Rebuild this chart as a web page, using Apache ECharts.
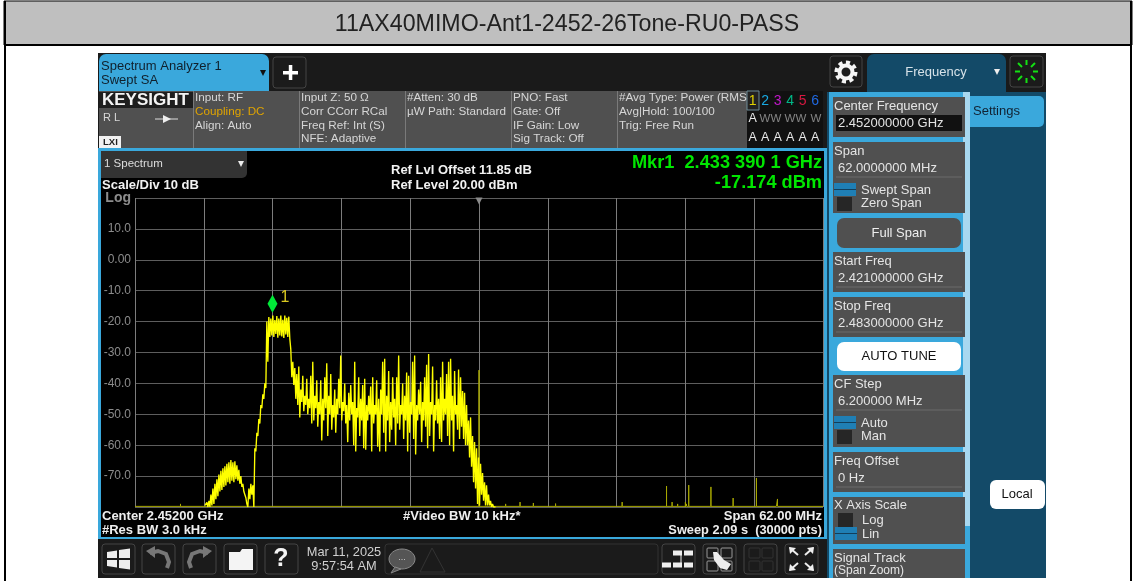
<!DOCTYPE html>
<html>
<head>
<meta charset="utf-8">
<style>
  html, body { margin: 0; padding: 0; background: #fff; }
  #chart { width: 1134px; height: 581px; }
</style>
</head>
<body>
<div id="chart"></div>
<script src="https://cdn.jsdelivr.net/npm/echarts@6/dist/echarts.min.js"></script>
<script>
// x axis is MHz above the start frequency (2421 MHz), span 62 MHz
const spanMHz = 62;
const divMHz = 6.2;
const yTicks = [20, 10, 0, -10, -20, -30, -40, -50, -60, -70, -80];
const yTickLabels = ['{log|Log}', '10.0', '0.00', '-10.0', '-20.0', '-30.0', '-40.0', '-50.0', '-60.0', '-70.0', ''];

const titleText = '11AX40MIMO-Ant1-2452-26Tone-RU0-PASS';
const markerMHz = 12.39;
const markerDbm = -17.174;
const centerMHz = 31;

// trace read as high/low of each 0.18 MHz bin, first bin at 6.3 MHz
const traceStart = 6.3;
const traceBin = 0.18;
const traceUpper = [
  -79.5, -78.5, -78, -76, -74, -72.5, -71, -69.5, -68.3, -67.5, -66.8, -66, -65.5, -64.8, -65.5, -65.2,
  -66.5, -68, -70, -72.5, -75, -79, -74, -72.5, -73, -61, -56, -51.5, -47, -43.5, -40, -20,
  -18.5, -19, -18, -19.5, -18.2, -19, -18, -19.4, -18, -18.8, -18.4, -29,
  -33, -35, -37, -34.5, -42, -37.5, -44, -38.5, -45, -37.5, -33, -44, -39, -46, -39, -45, -38,
  -33.5, -44, -37, -47, -42, -45, -38.5, -31, -46, -40, -47, -43, -40.5, -46, -33, -48,
  -38, -45, -40.5, -38.5, -47, -44, -41, -38, -47, -39, -45, -42, -33, -32, -44, -36, -46,
  -38, -45, -38, -31, -47, -40, -44, -36.5, -37.5, -46, -33, -31, -47, -42, -39.5, -46, -38,
  -34, -30.5, -46, -34.5, -47, -39, -45, -38, -33, -45, -37, -33, -32, -44, -36, -47, -35.5,
  -38, -42.5, -43,
  -47, -52, -51, -57, -59, -61, -64, -66, -69, -72, -73, -76, -78, -79, -79.5
];
const traceLower = [
  -80, -80, -80, -79.5, -79, -77.5, -76.5, -75, -74.5, -73.5, -73, -72, -72.5, -71.5, -72, -71,
  -71.5, -72.5, -73.5, -75, -77, -80, -77.5, -76, -80, -62, -57, -53, -48, -45, -41.5, -33,
  -25, -24.5, -25, -24, -25.2, -24.5, -24.8, -25.3, -24.2, -25, -25.5, -38,
  -40.5, -45, -47, -51, -46, -49, -47, -50, -48, -53, -52, -48, -54, -50, -58.5, -52, -48,
  -57, -50, -55, -51, -56, -50, -48, -52, -49, -53, -59, -52, -50, -60, -62, -51,
  -57, -52, -61, -61.5, -52, -50, -62, -53, -50, -60.5, -62, -50, -56, -62, -52, -59, -55,
  -51, -60, -53, -55, -50, -58, -52, -62, -56, -50, -58, -63, -52, -50, -59, -52, -54,
  -61, -57, -50, -62, -52, -53, -58, -59, -52, -50, -57, -60, -52, -62, -50, -55, -58,
  -54, -58, -60,
  -60, -64, -67, -72, -74, -79, -79.5, -76, -78, -79.5, -79.5, -79.5, -80, -80, -80
];

// noise floor and the small spurs standing on it
const floorDbm = -79.8;
const spurMHz = [4.1, 31, 33.4, 34.7, 35.9, 37.9, 43.9, 47.9, 48.4, 48.9, 49.6, 49.7, 49.9, 51.9, 53.9, 56, 57.8, 57.9];
const spurDbm = [-79, -35.7, -79, -78.4, -78.7, -78.9, -78.4, -73.2, -78.4, -79, -78.4, -79, -72.9, -73.5, -77.1, -70.6, -79.3, -77.4];

// softkey panel text
const softKeys = [
  { top: 97, h: 40, name: 'Center Frequency', value: '2.452000000 GHz', active: true },
  { top: 142, h: 71, name: 'Span', value: '62.0000000 MHz', on: 'Swept Span', off: 'Zero Span' },
  { top: 252, h: 40, name: 'Start Freq', value: '2.421000000 GHz' },
  { top: 297, h: 40, name: 'Stop Freq', value: '2.483000000 GHz' },
  { top: 375, h: 72, name: 'CF Step', value: '6.200000 MHz', on: 'Auto', off: 'Man' },
  { top: 452, h: 40, name: 'Freq Offset', value: '0 Hz' }
];
const infoColumns = [
  { x: 195, lines: ['Input: RF', 'Coupling: DC', 'Align: Auto'] },
  { x: 301, lines: ['Input Z: 50 Ω', 'Corr CCorr RCal', 'Freq Ref: Int (S)', 'NFE: Adaptive'] },
  { x: 407, lines: ['#Atten: 30 dB', 'µW Path: Standard'] },
  { x: 513, lines: ['PNO: Fast', 'Gate: Off', 'IF Gain: Low', 'Sig Track: Off'] },
  { x: 619, lines: ['#Avg Type: Power (RMS', 'Avg|Hold: 100/100', 'Trig: Free Run'] }
];
const traceNumColors = ['#e0d000', '#18a8e0', '#c018c8', '#00b888', '#d81840', '#2068e0'];

const tracePoints = [];
for (let i = 0; i < traceUpper.length; i++) {
  const x = traceStart + i * traceBin;
  tracePoints.push([x, traceUpper[i]]);
  tracePoints.push([x + traceBin / 2, traceLower[i]]);
}
const floorPoints = [[0, floorDbm]];
spurMHz.forEach((x, i) => {
  floorPoints.push([x, floorDbm], [x, spurDbm[i]], [x, floorDbm]);
});
floorPoints.push([spanMHz, floorDbm]);

// helpers for the instrument chrome around the plot
const FONT = '"Liberation Sans", Arial, sans-serif';
const items = [];
function box(x, y, w, h, fill, r, stroke) {
  items.push({
    type: 'rect', z: -5, silent: true,
    shape: { x: x, y: y, width: w, height: h, r: r || 0 },
    style: { fill: fill, stroke: stroke || null, lineWidth: 1 }
  });
}
function txt(x, y, text, color, size, bold, align) {
  items.push({
    type: 'text', z: 5, silent: true,
    style: {
      x: x, y: y, text: text, fill: color,
      font: (bold ? 'bold ' : '') + size + 'px ' + FONT,
      align: align || 'left', verticalAlign: 'middle'
    }
  });
}
function poly(points, fill, stroke, lw) {
  items.push({
    type: 'polygon', z: 4, silent: true,
    shape: { points: points },
    style: { fill: fill || null, stroke: stroke || null, lineWidth: lw || 1 }
  });
}
function polyline(points, stroke, lw) {
  items.push({
    type: 'polyline', z: 4, silent: true,
    shape: { points: points },
    style: { fill: null, stroke: stroke, lineWidth: lw || 1 }
  });
}
function toggle(x, y, blue) {
  if (blue) {
    box(x - 3, y, 22, 13, '#1f7fb5');
    box(x - 3, y + 6, 22, 1, '#123f5c');
  } else {
    box(x, y, 15, 14, '#262626');
  }
}
function iconBtn(x, y, w, h) {
  box(x, y, w, h, '#1b1b1b', 3, '#444');
}

// outer frame and title bar
box(0, 0, 1134, 581, '#fff');
box(4, 1, 1128, 44, '#bfbfbf', 0, '#000');
box(4, 1, 2, 580, '#000');
box(1130, 1, 2, 580, '#000');
box(4, 44, 1128, 2, '#000');

// instrument background
box(98, 53, 948, 525, '#1a1a1a');
box(98, 148, 730, 391, '#3aa8dc');
box(101, 151, 723, 386, '#000');

// top bar
box(99, 54, 170, 37, '#3aa8dc', [7, 7, 0, 0]);
txt(101, 66, 'Spectrum Analyzer 1', '#10202c', 13);
txt(101, 80, 'Swept SA', '#10202c', 13);
poly([[260, 70], [266, 70], [263, 76]], '#111');
iconBtn(273, 57, 33, 31);
box(283, 71, 15, 3.5, '#fff');
box(288.8, 65, 3.5, 15, '#fff');

// status row
box(99, 91, 648, 57, '#505050');
box(99, 92, 94, 16, '#1e1e1e');
txt(102, 100, 'KEYSIGHT', '#f4f4f4', 17, true);
txt(103, 118, 'R L', '#d8d8d8', 11);
polyline([[155, 119], [178, 119]], '#ddd', 1);
poly([[163, 115], [171, 119], [163, 123]], '#eee');
box(99, 136, 22, 12, '#f2f2f2');
txt(103, 142, 'LXI', '#222', 9.5, true);
[193, 299, 405, 511, 617].forEach(x => box(x, 91, 1, 57, '#7a7a7a'));
infoColumns.forEach(col => {
  col.lines.forEach((line, i) => {
    txt(col.x, 98 + i * 13.7, line, line === 'Coupling: DC' ? '#e0a400' : '#d6d6d6', 11.7);
  });
});

// trace indicator box
box(747, 91, 76, 57, '#111');
box(747, 91, 12, 19, '#222', 0, '#6d8a96');
traceNumColors.forEach((c, i) => {
  txt(752.7 + i * 12.5, 101, String(i + 1), c, 14, false, 'center');
  txt(752.7 + i * 12.5, 138, 'A', '#e8e8e8', 12.5, false, 'center');
});
txt(752.7, 119, 'A', '#e8e8e8', 12.5, false, 'center');
[765, 776, 790, 801, 816].forEach(x => txt(x, 119, 'W', '#858585', 11.5, false, 'center'));

// plot header text
box(101, 151, 146, 27, '#333', [0, 0, 5, 0]);
txt(104, 164, '1 Spectrum', '#ddd', 11.5);
poly([[238, 161], [244, 161], [241, 167]], '#eee');
txt(102, 185, 'Scale/Div 10 dB', '#f2f2f2', 13, true);
txt(391, 170, 'Ref Lvl Offset 11.85 dB', '#f2f2f2', 13, true);
txt(391, 185, 'Ref Level 20.00 dBm', '#f2f2f2', 13, true);
txt(822, 163, 'Mkr1  2.433 390 1 GHz', '#00e600', 18.2, true, 'right');
txt(822, 183, '-17.174 dBm', '#00e600', 18.2, true, 'right');

// plot footer text
txt(102, 516, 'Center 2.45200 GHz', '#eee', 13, true);
txt(102, 530, '#Res BW 3.0 kHz', '#eee', 13, true);
txt(403, 516, '#Video BW 10 kHz*', '#eee', 13, true);
txt(822, 516, 'Span 62.00 MHz', '#eee', 13, true, 'right');
txt(822, 530, 'Sweep 2.09 s  (30000 pts)', '#eee', 12.8, true, 'right');

// bottom toolbar
iconBtn(102, 544, 33, 30);
poly([[107, 552], [117, 550.5], [117, 558], [107, 558]], '#eee');
poly([[119, 550], [130, 548.5], [130, 558], [119, 558]], '#eee');
poly([[107, 560], [117, 560], [117, 567.5], [107, 566]], '#eee');
poly([[119, 560], [130, 560], [130, 569.5], [119, 568]], '#eee');
iconBtn(142, 544, 33, 30);
polyline([[150, 553], [158, 551], [166, 554], [169, 562], [167, 568]], '#777', 4);
poly([[146, 551], [155, 546], [155, 558]], '#777');
iconBtn(183, 544, 33, 30);
polyline([[208, 553], [200, 551], [192, 554], [189, 562], [191, 568]], '#777', 4);
poly([[212, 551], [203, 546], [203, 558]], '#777');
iconBtn(224, 544, 33, 30);
poly([[229, 552], [240, 552], [242, 549], [253, 549], [253, 570], [229, 570]], '#f4f4f4');
iconBtn(265, 544, 33, 30);
txt(281, 559, '?', '#f4f4f4', 25, true, 'center');
txt(344, 552, 'Mar 11, 2025', '#d0d0d0', 12.8, false, 'center');
txt(344, 566, '9:57:54 AM', '#d0d0d0', 12.8, false, 'center');
box(385, 544, 273, 30, '#1b1b1b', 3, '#333');
items.push({ type: 'ellipse', z: 4, silent: true, shape: { cx: 402, cy: 559, rx: 13, ry: 10 }, style: { fill: '#555', stroke: '#888', lineWidth: 1 } });
poly([[395, 567], [391, 573], [401, 569]], '#555', '#888');
txt(402, 558, '...', '#ccc', 9, false, 'center');
poly([[420, 572], [432, 548], [445, 572]], null, '#333');
iconBtn(662, 544, 33, 30);
[[677, 553], [688, 553], [666, 565], [677, 565], [688, 565]].forEach(p => box(p[0] - 4, p[1] - 2.5, 9, 5, '#eee'));
polyline([[681, 553], [681, 565]], '#eee', 1);
iconBtn(703, 544, 33, 30);
[[707, 548], [721, 548], [707, 561], [721, 561]].forEach(p => box(p[0], p[1], 11, 10, '#1b1b1b', 1, '#999'));
poly([[713, 552], [717, 552], [724, 560], [731, 564], [727, 570], [720, 568], [714, 560]], '#eee');
iconBtn(744, 544, 33, 30);
[[749, 548], [762, 548], [749, 561], [762, 561]].forEach(p => box(p[0], p[1], 11, 10, '#1b1b1b', 1, '#333'));
iconBtn(785, 544, 33, 30);
[[[798, 555], [790, 548]], [[805, 555], [813, 548]], [[798, 563], [790, 570]], [[805, 563], [813, 570]]].forEach(l => polyline(l, '#eee', 2));
poly([[789, 547], [796, 548], [790, 554]], '#eee');
poly([[814, 547], [807, 548], [813, 554]], '#eee');
poly([[789, 571], [796, 570], [790, 564]], '#eee');
poly([[814, 571], [807, 570], [813, 564]], '#eee');

// right side panel
box(827, 92, 219, 486, '#134a68');
iconBtn(830, 56, 32, 31);
items.push({ type: 'circle', z: 4, silent: true, shape: { cx: 846, cy: 72, r: 9.5 }, style: { fill: null, stroke: '#f4f4f4', lineWidth: 4, lineDash: [4, 3.4] } });
items.push({ type: 'circle', z: 4, silent: true, shape: { cx: 846, cy: 72, r: 6.5 }, style: { fill: '#1b1b1b', stroke: '#f4f4f4', lineWidth: 4 } });
box(867, 54, 139, 38, '#134a68', [7, 7, 0, 0]);
txt(936, 72, 'Frequency', '#d6e2e8', 13, false, 'center');
poly([[994, 69], [1000, 69], [997, 75]], '#eee');
iconBtn(1010, 56, 33, 31);
[[1026.5, 60, 1026.5, 65], [1035, 63, 1031, 67], [1038, 71.5, 1033, 71.5], [1035, 80, 1031, 76],
 [1026.5, 83, 1026.5, 78], [1018, 80, 1022, 76], [1015, 71.5, 1020, 71.5], [1018, 63, 1022, 67]].forEach(s => {
  polyline([[s[0], s[1]], [s[2], s[3]]], '#14e014', 2);
});
box(968, 96, 76, 31, '#3aa8dc', [0, 5, 5, 0]);
txt(973, 111, 'Settings', '#123', 13);

// softkeys
box(829, 92, 141, 486, '#3aa8dc');
box(963, 92, 7, 434, '#a8d8f0');
softKeys.forEach(k => {
  box(833, k.top, 132, k.h, '#505050');
  txt(834, k.top + 9, k.name, '#e4e4e4', 13);
  if (k.active) {
    box(836, k.top + 18, 126, 16, '#111');
  } else {
    polyline([[836, k.top + 35], [962, k.top + 35]], '#6a6a6a', 1);
  }
  txt(838, k.top + 26, k.value, '#e4e4e4', 13);
  if (k.on) {
    toggle(837, k.top + 41, true);
    toggle(837, k.top + 55, false);
    txt(861, k.top + 48, k.on, '#e4e4e4', 13);
    txt(861, k.top + 61, k.off, '#e4e4e4', 13);
  }
});
box(837, 218, 124, 30, '#505050', 7);
txt(899, 233, 'Full Span', '#eee', 13, false, 'center');
box(837, 342, 124, 29, '#fff', 7);
txt(899, 356, 'AUTO TUNE', '#111', 13, false, 'center');
box(833, 497, 132, 47, '#505050');
txt(834, 505, 'X Axis Scale', '#e4e4e4', 13);
toggle(838, 513, false);
toggle(838, 527, true);
txt(862, 520, 'Log', '#e4e4e4', 13);
txt(862, 534, 'Lin', '#e4e4e4', 13);
box(833, 549, 132, 29, '#505050');
txt(834, 558, 'Signal Track', '#e4e4e4', 13);
txt(834, 571, '(Span Zoom)', '#e4e4e4', 12);
box(990, 480, 55, 29, '#fff', 6);
txt(1017, 494, 'Local', '#111', 13, false, 'center');

const chart = echarts.init(document.getElementById('chart'));
chart.setOption({
  animation: false,
  title: {
    text: titleText,
    left: 'center',
    top: 8,
    textStyle: { color: '#222', fontSize: 23.2, fontWeight: 'normal', fontFamily: FONT }
  },
  graphic: { elements: items },
  grid: { left: 135, top: 198, width: 688, height: 309, show: true, backgroundColor: '#000', borderWidth: 0 },
  xAxis: {
    type: 'value',
    min: 0,
    max: spanMHz,
    interval: divMHz,
    axisLine: { show: false },
    axisTick: { show: false },
    axisLabel: { show: false },
    splitLine: { show: true, lineStyle: { color: '#7c7c7c', width: 1 } }
  },
  yAxis: {
    type: 'value',
    min: -80,
    max: 20,
    interval: 10,
    axisLine: { show: false },
    axisTick: { show: false },
    axisLabel: {
      color: '#8c8c8c',
      fontSize: 12,
      fontFamily: FONT,
      margin: 4,
      formatter: v => yTickLabels[yTicks.indexOf(v)],
      rich: { log: { color: '#8c8c8c', fontSize: 14, fontWeight: 'bold', fontFamily: FONT } }
    },
    splitLine: { show: true, lineStyle: { color: '#5e5e5e', width: 1 } }
  },
  series: [
    {
      name: 'Floor',
      type: 'line',
      data: floorPoints,
      showSymbol: false,
      sampling: null,
      lineStyle: { color: '#a8a800', width: 1 },
      markPoint: {
        silent: true,
        animation: false,
        symbol: 'triangle',
        symbolRotate: 180,
        symbolSize: 7,
        symbolOffset: [0, 3],
        itemStyle: { color: '#8a8a8a' },
        label: { show: false },
        data: [{ coord: [centerMHz, 20] }]
      }
    },
    {
      name: 'Trace 1',
      type: 'line',
      data: tracePoints,
      showSymbol: false,
      lineStyle: { color: '#ffff00', width: 1.35 },
      markPoint: {
        silent: true,
        animation: false,
        symbol: 'diamond',
        symbolSize: [10, 18],
        symbolOffset: [0, -9],
        itemStyle: { color: '#00e838' },
        label: {
          show: true,
          formatter: '1',
          position: 'right',
          offset: [-2, -6],
          color: '#d8c820',
          fontSize: 16,
          fontFamily: FONT
        },
        data: [{ coord: [markerMHz, markerDbm] }]
      }
    }
  ]
});
</script>
</body>
</html>
